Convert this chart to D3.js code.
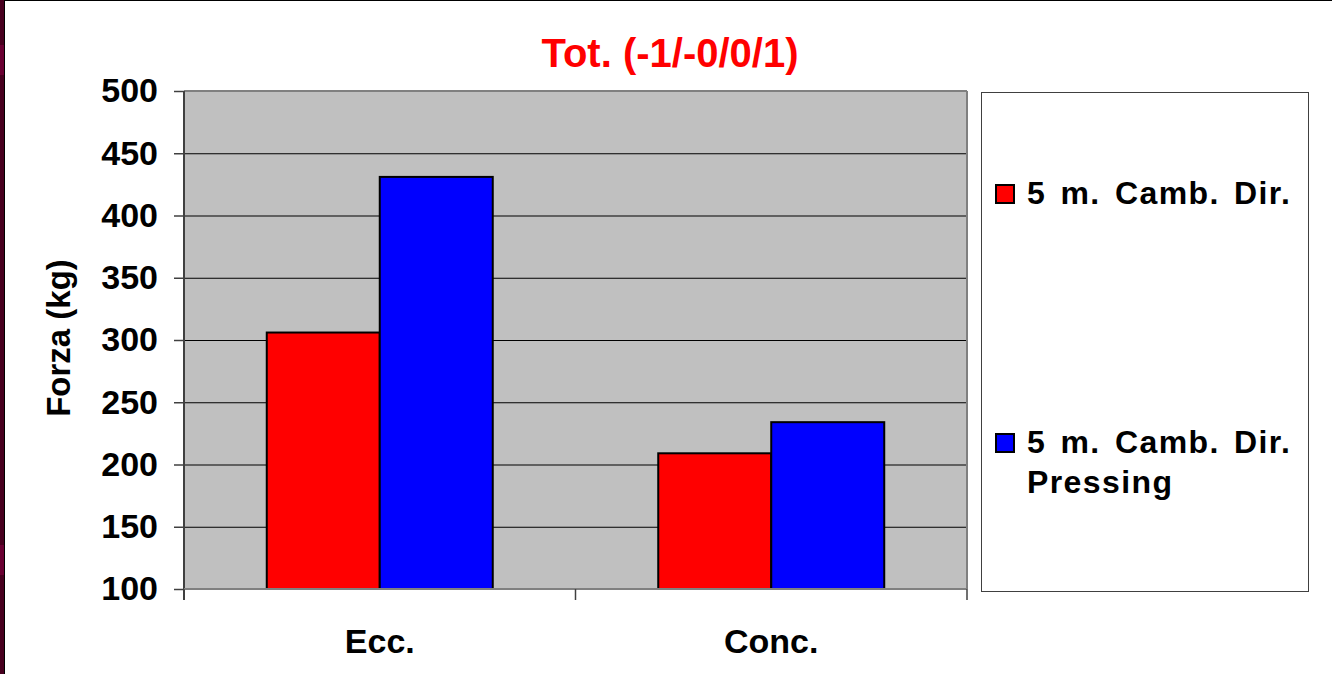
<!DOCTYPE html>
<html>
<head>
<meta charset="utf-8">
<script src="https://cdn.jsdelivr.net/npm/d3@7"></script>
<style>
  body { margin: 0; background: #fff; }
  svg { display: block; font-family: "Liberation Sans", Arial, sans-serif; font-weight: bold; }
</style>
</head>
<body>
<svg id="chart" width="1332" height="674"></svg>
<script>
// data
var categories = ["Ecc.", "Conc."];
var seriesNames = ["5 m. Camb. Dir.", "5 m. Camb. Dir. Pressing"];
var camb = [306, 209];
var pressing = [431, 234];
var yTicks = [100, 150, 200, 250, 300, 350, 400, 450, 500];
var colors = ["#ff0000", "#0000ff"];

var svg = d3.select("#chart");

// slide frame: dark strip on the left, black edge on top
svg.append("rect").attr("x", 0).attr("y", 0).attr("width", 4).attr("height", 674).attr("fill", "#48001f");
svg.append("rect").attr("x", 0).attr("y", 45).attr("width", 4).attr("height", 30).attr("fill", "#6a0032");
svg.append("rect").attr("x", 0).attr("y", 545).attr("width", 4).attr("height", 30).attr("fill", "#6a0032");
svg.append("line").attr("x1", 4.5).attr("x2", 4.5).attr("y1", 0).attr("y2", 674).attr("stroke", "#000").attr("stroke-width", 1);
svg.append("line").attr("x1", 4).attr("x2", 1332).attr("y1", 0.5).attr("y2", 0.5).attr("stroke", "#000").attr("stroke-width", 1);

var pL = 184, pR = 967, pT = 91, pB = 589;

var y = d3.scaleLinear().domain([100, 500]).range([pB, pT]);
var x0 = d3.scaleBand().domain(categories).range([pL, pR])
    .paddingInner(0.4227).paddingOuter(0.2114);
var x1 = d3.scaleBand().domain(seriesNames).range([0, x0.bandwidth()]);

var rows = categories.map(function(c, i) {
  return { cat: c, values: [camb[i], pressing[i]] };
});

// plot area
svg.append("rect")
  .attr("x", pL).attr("y", pT)
  .attr("width", pR - pL).attr("height", pB - pT)
  .attr("fill", "#c0c0c0");

// gridlines
var grid = svg.append("g")
  .attr("transform", "translate(" + pL + ",0)")
  .call(d3.axisLeft(y).tickValues(yTicks.slice(1, -1)).tickSize(-(pR - pL)).tickFormat(""));
grid.select(".domain").remove();
grid.selectAll("line").attr("stroke", "#000").attr("stroke-width", 1);

// border top/right
svg.append("line").attr("x1", pL).attr("x2", pR).attr("y1", pT).attr("y2", pT)
  .attr("stroke", "#808080").attr("stroke-width", 2);
svg.append("line").attr("x1", pR).attr("x2", pR).attr("y1", pT).attr("y2", pB)
  .attr("stroke", "#808080").attr("stroke-width", 2);

// bars
var groups = svg.append("g").selectAll("g")
  .data(rows).enter().append("g")
  .attr("transform", function(d) { return "translate(" + x0(d.cat) + ",0)"; });

groups.selectAll("rect")
  .data(function(d) { return d.values.map(function(v, i) { return { key: seriesNames[i], value: v, i: i }; }); })
  .enter().append("rect")
  .attr("x", function(d) { return x1(d.key); })
  .attr("y", function(d) { return y(d.value); })
  .attr("width", x1.bandwidth())
  .attr("height", function(d) { return y(100) - y(d.value); })
  .attr("fill", function(d) { return colors[d.i]; })
  .attr("stroke", "#000")
  .attr("stroke-width", 2);

// y axis
var yAxis = svg.append("g")
  .attr("transform", "translate(" + pL + ",0)")
  .call(d3.axisLeft(y).tickValues(yTicks).tickSize(10).tickPadding(16));
yAxis.select(".domain").attr("stroke", "#404040").attr("stroke-width", 2)
  .attr("d", "M0," + pT + "V" + (pB + 11));
yAxis.selectAll(".tick line").attr("stroke", "#404040").attr("stroke-width", 1.5);
yAxis.selectAll("text")
  .attr("fill", "#000")
  .attr("font-size", 34)
  .attr("font-weight", "bold")
  .attr("font-family", "Liberation Sans, Arial, sans-serif");

// x axis
var xAxis = svg.append("g")
  .attr("transform", "translate(0," + pB + ")")
  .call(d3.axisBottom(x0).tickSize(0).tickPadding(40));
xAxis.select(".domain").attr("stroke", "#808080").attr("stroke-width", 2)
  .attr("d", "M" + pL + ",0H" + pR);
xAxis.selectAll("text")
  .attr("fill", "#000")
  .attr("font-size", 34)
  .attr("font-weight", "bold")
  .attr("font-family", "Liberation Sans, Arial, sans-serif");

// category separators below the axis
var seps = [pL, (pL + pR) / 2, pR];
svg.append("g").selectAll("line").data(seps).enter().append("line")
  .attr("x1", function(d) { return d; }).attr("x2", function(d) { return d; })
  .attr("y1", pB).attr("y2", pB + 11)
  .attr("stroke", "#404040").attr("stroke-width", 1.5);

// title
svg.append("text")
  .attr("x", 670).attr("y", 67)
  .attr("text-anchor", "middle")
  .attr("fill", "#ff0000")
  .attr("font-size", 40)
  .text("Tot. (-1/-0/0/1)");

// y title
svg.append("text")
  .attr("transform", "translate(70,338) rotate(-90)")
  .attr("text-anchor", "middle")
  .attr("font-size", 33)
  .attr("fill", "#000")
  .text("Forza (kg)");

// legend
svg.append("rect")
  .attr("x", 981.5).attr("y", 92.5).attr("width", 327).attr("height", 499)
  .attr("fill", "#fff").attr("stroke", "#404040").attr("stroke-width", 1);

var legendLines = [["5 m. Camb. Dir."], ["5 m. Camb. Dir.", "Pressing"]];
var legendY = [204, 453];

var legend = svg.append("g").selectAll("g")
  .data(seriesNames).enter().append("g")
  .attr("transform", function(d, i) { return "translate(0," + legendY[i] + ")"; });

legend.append("rect")
  .attr("x", 996).attr("y", -19).attr("width", 18).attr("height", 18)
  .attr("fill", function(d, i) { return colors[i]; })
  .attr("stroke", "#000").attr("stroke-width", 2);

legend.append("text")
  .attr("x", 1027).attr("y", 0)
  .attr("font-size", 32)
  .attr("fill", "#000")
  .style("letter-spacing", "1.4px")
  .style("word-spacing", "4px")
  .selectAll("tspan")
  .data(function(d, i) { return legendLines[i]; })
  .enter().append("tspan")
  .attr("x", 1027)
  .attr("dy", function(d, j) { return j === 0 ? 0 : 40; })
  .text(function(d) { return d; });
</script>
</body>
</html>
